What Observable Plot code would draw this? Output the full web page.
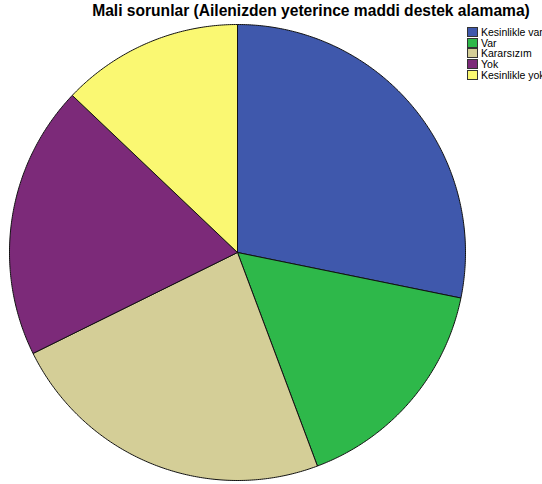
<!DOCTYPE html>
<html>
<head>
<meta charset="utf-8">
<script src="https://cdn.jsdelivr.net/npm/d3@7"></script>
<script src="https://cdn.jsdelivr.net/npm/@observablehq/plot@0.6"></script>
<style>
  body { margin: 0; background: #fff; font-family: "Liberation Sans", Arial, sans-serif; }
  #wrap { position: relative; width: 542px; height: 484px; overflow: hidden; }
  #title { position: absolute; left: 0; width: 622px; top: 2px; text-align: center; font-weight: bold; font-size: 15.6px; color: #000; white-space: nowrap; }
  #legend { position: absolute; left: 467px; top: 27px; font-size: 10.5px; color: #000; white-space: nowrap; }
  .row { height: 10.6px; display: flex; align-items: center; }
  .sw { width: 9px; height: 8px; border: 1px solid #333; margin-right: 3px; flex: none; }
  #chart { position: absolute; left: 0; top: 0; }
</style>
</head>
<body>
<div id="wrap">
  <div id="chart"></div>
  <div id="title">Mali sorunlar (Ailenizden yeterince maddi destek alamama)</div>
  <div id="legend"></div>
</div>
<script>
const categories = ["Kesinlikle var", "Var", "Kararsızım", "Yok", "Kesinlikle yok"];
const values = [28.2, 16.1, 23.4, 19.4, 12.9];
const colors = ["#3F58AC", "#2EB84A", "#D4CE97", "#7C2A79", "#FAF872"];

const pie = d3.pie().sort(null).value(d => d.value)(categories.map((c, i) => ({cat: c, value: values[i]})));
const pts = [];
for (const s of pie) {
  const c = s.data.cat;
  pts.push({cat: c, x: 0, y: 0});
  const n = Math.max(2, Math.ceil((s.endAngle - s.startAngle) / (Math.PI / 360)));
  for (let k = 0; k <= n; k++) {
    const a = s.startAngle + (s.endAngle - s.startAngle) * k / n;
    pts.push({cat: c, x: Math.sin(a), y: Math.cos(a)});
  }
  pts.push({cat: c, x: 0, y: 0});
}

const chart = Plot.plot({
  width: 542,
  height: 484,
  marginLeft: 9,
  marginRight: 77,
  marginTop: 24,
  marginBottom: 4,
  x: {domain: [-1, 1], axis: null},
  y: {domain: [-1, 1], axis: null},
  color: {type: "ordinal", domain: categories, range: colors},
  marks: [
    Plot.line(pts, {x: "x", y: "y", z: "cat", fill: "cat", stroke: "#111", strokeWidth: 1, strokeLinejoin: "round"})
  ]
});
document.getElementById("chart").appendChild(chart);

const leg = document.getElementById("legend");
categories.forEach((c, i) => {
  const r = document.createElement("div");
  r.className = "row";
  r.innerHTML = `<span class="sw" style="background:${colors[i]}"></span><span>${c}</span>`;
  leg.appendChild(r);
});
</script>
</body>
</html>
